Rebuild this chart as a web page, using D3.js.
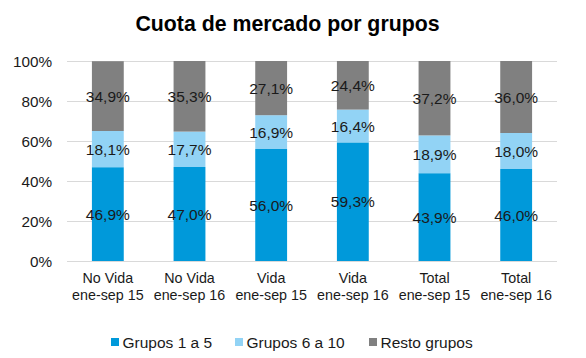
<!DOCTYPE html>
<html><head><meta charset="utf-8">
<script src="https://cdn.jsdelivr.net/npm/d3@7"></script>
<style>body{margin:0;background:#fff}svg{display:block}</style>
</head><body><svg id="c" width="586" height="358"></svg>
<script>
const categories = [["No Vida","ene-sep 15"],["No Vida","ene-sep 16"],["Vida","ene-sep 15"],["Vida","ene-sep 16"],["Total","ene-sep 15"],["Total","ene-sep 16"]];
const seriesNames = ["Grupos 1 a 5","Grupos 6 a 10","Resto grupos"];
const grupos1a5 = [46.9,47.0,56.0,59.3,43.9,46.0];
const grupos6a10 = [18.1,17.7,16.9,16.4,18.9,18.0];
const resto = [34.9,35.3,27.1,24.4,37.2,36.0];
const yTicks = [0,20,40,60,80,100];
const colors = ["#0099DA","#92D3F5","#808080"];
const font = "Liberation Sans, Arial, sans-serif";

const svg = d3.select("#c");
const x = d3.scaleBand().domain(d3.range(categories.length)).range([67,557]).paddingInner(0.61).paddingOuter(0.305);
const y = d3.scaleLinear().domain([0,100]).range([261,61]);

svg.append("text").attr("x",287.5).attr("y",31).attr("text-anchor","middle")
  .attr("font-family",font).attr("font-weight","bold").attr("font-size",21.3).text("Cuota de mercado por grupos");

svg.append("g").selectAll("line").data(yTicks).join("line")
  .attr("x1",67).attr("x2",557).attr("y1",d=>y(d)+0.5).attr("y2",d=>y(d)+0.5)
  .attr("stroke","#d9d9d9").attr("stroke-width",1);

svg.append("g").selectAll("text").data(yTicks).join("text")
  .attr("x",52).attr("y",d=>y(d)+5.5).attr("text-anchor","end")
  .attr("font-family",font).attr("font-size",15.3).attr("fill","#1a1a1a").text(d=>d+"%");

const series = [grupos1a5,grupos6a10,resto];
const rows = categories.map((c,i)=>({g1:grupos1a5[i],g2:grupos6a10[i],g3:resto[i]}));
const stack = d3.stack().keys(["g1","g2","g3"])(rows);

const fmt = v => v.toFixed(1).replace(".",",")+"%";
stack.forEach((layer,si)=>{
  const g = svg.append("g");
  g.selectAll("rect").data(layer).join("rect")
    .attr("x",(d,i)=>x(i)).attr("width",x.bandwidth())
    .attr("y",d=>y(Math.min(d[1],100))).attr("height",d=>y(d[0])-y(Math.min(d[1],100)))
    .attr("fill",colors[si]);
});
stack.forEach((layer,si)=>{
  svg.append("g").selectAll("text").data(layer).join("text")
    .attr("x",(d,i)=>x(i)+x.bandwidth()/2).attr("y",d=>y((d[0]+Math.min(d[1],100))/2)+5.5)
    .attr("text-anchor","middle").attr("font-family",font).attr("font-size",15.5).attr("fill","#1a1a1a")
    .text((d,i)=>fmt(series[si][i]));
});

const xl = svg.append("g").selectAll("text").data(categories).join("text")
  .attr("x",(d,i)=>x(i)+x.bandwidth()/2).attr("text-anchor","middle")
  .attr("font-family",font).attr("font-size",14.3).attr("fill","#1a1a1a");
xl.append("tspan").attr("x",(d,i)=>x(i)+x.bandwidth()/2).attr("y",283).text(d=>d[0]);
xl.append("tspan").attr("x",(d,i)=>x(i)+x.bandwidth()/2).attr("y",299.5).text(d=>d[1]);

const legX = [111,235,369];
const lg = svg.append("g").selectAll("g").data(seriesNames).join("g");
lg.append("rect").attr("x",(d,i)=>legX[i]).attr("y",338).attr("width",8).attr("height",8).attr("fill",(d,i)=>colors[i]);
lg.append("text").attr("x",(d,i)=>legX[i]+11.5).attr("y",347.5).attr("font-family",font).attr("font-size",15.5).attr("fill","#1a1a1a").text(d=>d);
</script></body></html>
